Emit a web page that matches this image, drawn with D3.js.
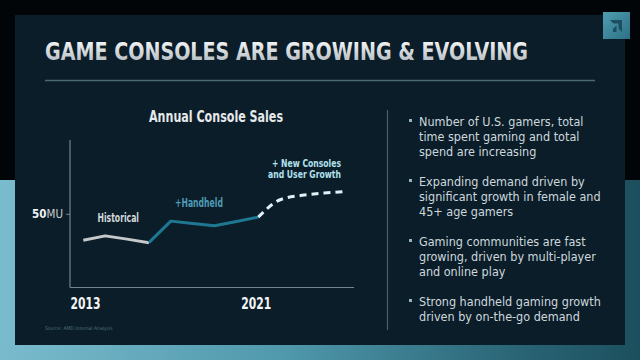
<!DOCTYPE html>
<html><head><meta charset="utf-8">
<script src="https://cdn.jsdelivr.net/npm/d3@7"></script>
<style>
html,body{margin:0;padding:0;background:#020507;}
svg{display:block;}
</style></head>
<body>
<svg id="c" width="640" height="360"></svg>
<script>
// ---- data ----
const historicalYears = [2013, 2014, 2015, 2016];
const historicalValues = [32, 35, 32.8, 30.4];
const handheldYears = [2016, 2017, 2018, 2019, 2020, 2021];
const handheldValues = [30.4, 45, 43.4, 41.8, 44.8, 47.7];
const forecastYears = [2021, 2022, 2023, 2024, 2025];
const forecastValues = [47.7, 59.5, 62.5, 64, 65];
const xTickYears = [2013, 2021];
const yTickValues = [50];
const yTickLabel = ["50", "MU"];
const titleText = "GAME CONSOLES ARE GROWING & EVOLVING";
const chartTitle = "Annual Console Sales";
const seriesLabels = ["Historical", "+Handheld", "+ New Consoles", "and User Growth"];
const bullets = [
  ["Number of U.S. gamers, total", "time spent gaming and total", "spend are increasing"],
  ["Expanding demand driven by", "significant growth in female and", "45+ age gamers"],
  ["Gaming communities are fast", "growing, driven by multi-player", "and online play"],
  ["Strong handheld gaming growth", "driven by on-the-go demand"]
];
const sourceText = "Source: AMD Internal Analysis";

// ---- drawing ----
const svg = d3.select("#c");
const defs = svg.append("defs");
const FONT = "'Liberation Sans Narrow','DejaVu Sans Condensed','Roboto Condensed',Roboto,sans-serif";

const bandG = defs.append("linearGradient").attr("id","band").attr("x1","0").attr("x2","1").attr("y1","0").attr("y2","0");
bandG.append("stop").attr("offset","0").attr("stop-color","#7abccd");
bandG.append("stop").attr("offset","0.45").attr("stop-color","#4f97ab");
bandG.append("stop").attr("offset","0.8").attr("stop-color","#2a6676");
bandG.append("stop").attr("offset","1").attr("stop-color","#1c4f5e");

const titleG = defs.append("linearGradient").attr("id","tg").attr("x1","0").attr("x2","0").attr("y1","0").attr("y2","1");
titleG.append("stop").attr("offset","0").attr("stop-color","#ffffff");
titleG.append("stop").attr("offset","1").attr("stop-color","#a9b2b7");

const logoG = defs.append("linearGradient").attr("id","lg").attr("x1","0").attr("x2","1").attr("y1","0").attr("y2","1");
logoG.append("stop").attr("offset","0").attr("stop-color","#4f9db1");
logoG.append("stop").attr("offset","1").attr("stop-color","#2d7085");

svg.append("rect").attr("width",640).attr("height",360).attr("fill","#020507");
svg.append("rect").attr("x",0).attr("y",180).attr("width",640).attr("height",180).attr("fill","url(#band)");
svg.append("rect").attr("x",15).attr("y",15).attr("width",610).attr("height",330).attr("fill","#0b1d29");

// logo
svg.append("rect").attr("x",603).attr("y",12).attr("width",27).attr("height",27).attr("fill","url(#lg)");
svg.append("path").attr("d","M610,20 L622,20 L622,32 L618.5,28.5 L618.5,23.5 L613.5,23.5 Z M613,29 L616.5,25.5 L616.5,32 L613,32 Z")
  .attr("fill","#1b4f5f");

// title
svg.append("text").attr("x",45).attr("y",60).text(titleText)
  .attr("font-family",FONT).attr("font-weight","bold").attr("font-size",25)
  .attr("textLength",483).attr("lengthAdjust","spacingAndGlyphs").attr("fill","url(#tg)");
svg.append("line").attr("x1",45).attr("x2",595).attr("y1",80.5).attr("y2",80.5)
  .attr("stroke","#4d6976").attr("stroke-width",1.5);

// chart
const x = d3.scaleLinear().domain([2013, 2021]).range([83.3, 258.3]);
const y = d3.scaleLinear().domain([0, 100]).range([287.5, 140]);

svg.append("text").attr("x",216).attr("y",121.5).attr("text-anchor","middle").text(chartTitle)
  .attr("font-family",FONT).attr("font-weight","bold").attr("font-size",16)
  .attr("textLength",134).attr("lengthAdjust","spacingAndGlyphs").attr("fill","#e6e9ea");

// axes
const yAxis = svg.append("g").attr("transform","translate(70,0)")
  .call(d3.axisLeft(y).tickValues(yTickValues).tickSize(4).tickFormat(""));
yAxis.select(".domain").attr("d",`M0,${y(100)}V${y(0)}`).attr("stroke","#75858e").attr("stroke-width",1.2);
yAxis.selectAll(".tick line").attr("stroke","#75858e");
const yl = svg.append("text").attr("x",63).attr("y",y(50)+4).attr("text-anchor","end")
  .attr("font-family",FONT).attr("font-size",11.5).attr("fill","#f2f4f5");
yl.append("tspan").attr("font-weight","bold").text(yTickLabel[0]);
yl.append("tspan").attr("fill","#c9d0d3").text(yTickLabel[1]);

const xAxis = svg.append("g").attr("transform",`translate(0,${y(0)})`)
  .call(d3.axisBottom(x).tickValues(xTickYears).tickSize(0).tickFormat(d3.format("d")));
xAxis.select(".domain").attr("d","M70,0H354").attr("stroke","#75858e").attr("stroke-width",1.2);
xAxis.selectAll(".tick text").attr("dy",0).attr("y",21.5).attr("dx",d => d===2013 ? 1.7 : -2.6)
  .attr("textLength",30).attr("lengthAdjust","spacingAndGlyphs")
  .attr("font-family",FONT).attr("font-weight","bold").attr("font-size",16).attr("fill","#f3f5f6");

const line = d3.line().x(d => x(d[0])).y(d => y(d[1]));
svg.append("path").datum(d3.zip(historicalYears, historicalValues))
  .attr("d", line).attr("fill","none").attr("stroke","#c6c9cb").attr("stroke-width",3).attr("stroke-linejoin","round");
svg.append("path").datum(d3.zip(handheldYears, handheldValues))
  .attr("d", line).attr("fill","none").attr("stroke","#1f7892").attr("stroke-width",3).attr("stroke-linejoin","round");
svg.append("path").datum(d3.zip(forecastYears, forecastValues))
  .attr("d", d3.line().x(d => x(d[0])).y(d => y(d[1])).curve(d3.curveMonotoneX))
  .attr("fill","none").attr("stroke","#dff2f7").attr("stroke-width",3).attr("stroke-dasharray","7,5");

const lbl = (t, xx, yy, col, anchor, w, fs) => svg.append("text").attr("x",xx).attr("y",yy).text(t)
  .attr("text-anchor",anchor).attr("font-family",FONT).attr("font-weight","bold").attr("font-size",fs)
  .attr("textLength",w).attr("lengthAdjust","spacingAndGlyphs").attr("fill",col);
lbl(seriesLabels[0], 97.5, 221.5, "#d3d7d9", "start", 41.5, 11.5);
lbl(seriesLabels[1], 175, 206.5, "#4f9bb4", "start", 48, 11.5);
lbl(seriesLabels[2], 341, 166.5, "#b2e1ee", "end", 69, 10);
lbl(seriesLabels[3], 341, 178, "#b2e1ee", "end", 73, 10);

svg.append("text").attr("x",45).attr("y",330).text(sourceText)
  .attr("font-family",FONT).attr("font-size",5).attr("fill","#50707e");

// right column
svg.append("line").attr("x1",387.5).attr("x2",387.5).attr("y1",110).attr("y2",330)
  .attr("stroke","#4a5f69").attr("stroke-width",1.2);
bullets.forEach((grp, i) => {
  const by = 126 + i * 60;
  svg.append("rect").attr("x",409).attr("y",by-7).attr("width",3).attr("height",3).attr("fill","#8fb4c2");
  grp.forEach((t, j) => {
    svg.append("text").attr("x",419).attr("y",by + j*15).text(t)
      .attr("font-family",FONT).attr("font-size",12.5).attr("fill","#cdd8dd");
  });
});
</script>
</body></html>
